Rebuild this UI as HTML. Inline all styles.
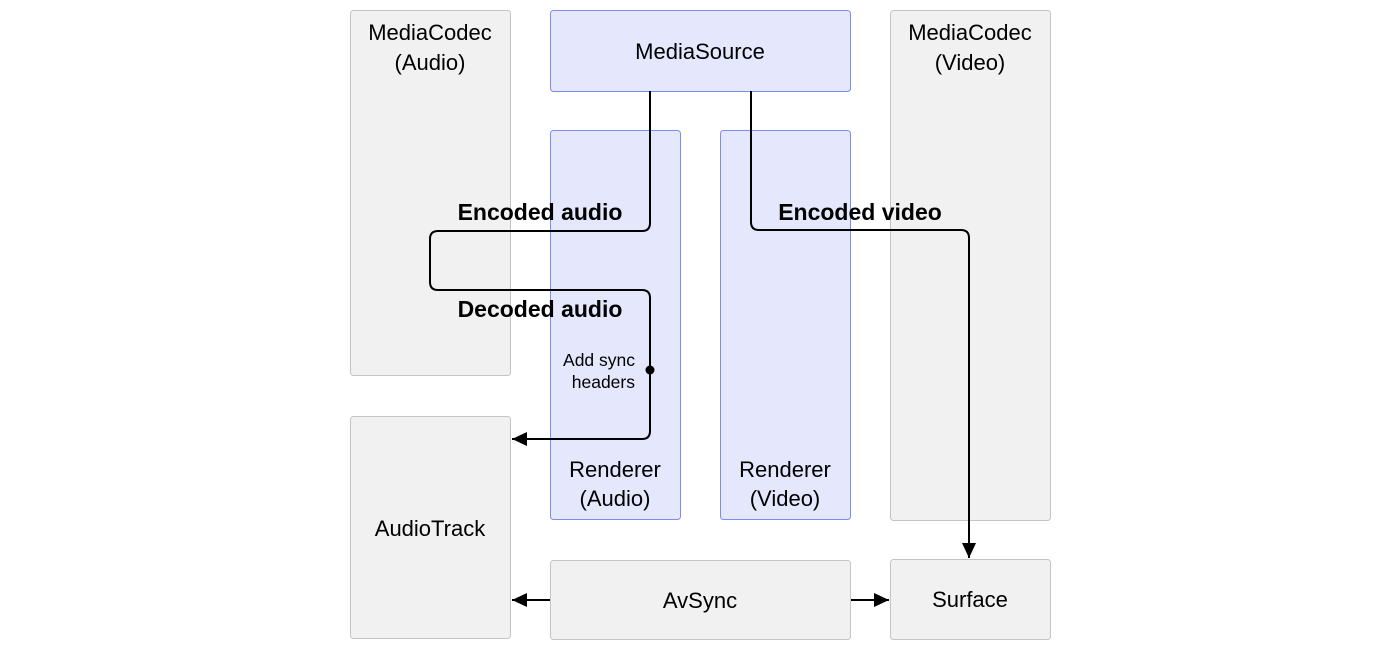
<!DOCTYPE html>
<html><head><style>body{margin:0;background:#fff}svg{display:block}</style></head><body>
<svg width="1400" height="650" xmlns="http://www.w3.org/2000/svg" font-family="Liberation Sans, Arial, sans-serif">
<defs><marker id="a" markerWidth="15" markerHeight="14" refX="15" refY="7" orient="auto" markerUnits="userSpaceOnUse"><path d="M0,0L15,7L0,14z" fill="#000"/></marker></defs>
<g stroke="#c4c4c4" fill="#f1f1f1">
<rect x="350.5" y="10.5" width="160" height="365" rx="3"/>
<rect x="890.5" y="10.5" width="160" height="510" rx="3"/>
<rect x="350.5" y="416.5" width="160" height="222" rx="3"/>
<rect x="550.5" y="560.5" width="300" height="79" rx="3"/>
<rect x="890.5" y="559.5" width="160" height="80" rx="3"/>
</g>
<g stroke="#7a8cf5" fill="#e5e7fd">
<rect x="550.5" y="10.5" width="300" height="81" rx="3"/>
<rect x="550.5" y="130.5" width="130" height="389" rx="3"/>
<rect x="720.5" y="130.5" width="130" height="389" rx="3"/>
</g>
<g font-size="22" fill="#000" text-anchor="middle">
<text x="430" y="40">MediaCodec</text><text x="430" y="70">(Audio)</text>
<text x="970" y="40">MediaCodec</text><text x="970" y="70">(Video)</text>
<text x="700" y="59">MediaSource</text>
<text x="615" y="477">Renderer</text><text x="615" y="506">(Audio)</text>
<text x="785" y="477">Renderer</text><text x="785" y="506">(Video)</text>
<text x="430" y="536">AudioTrack</text>
<text x="700" y="608">AvSync</text>
<text x="970" y="607">Surface</text>
</g>
<g font-size="23" font-weight="bold" text-anchor="middle">
<text x="540" y="220">Encoded audio</text>
<text x="540" y="317">Decoded audio</text>
<text x="860" y="220">Encoded video</text>
</g>
<g font-size="17.5" text-anchor="end"><text x="635" y="366">Add sync</text><text x="635" y="388">headers</text></g>
<g fill="none" stroke="#000" stroke-width="2">
<path d="M650,91V223q0,8-8,8H438q-8,0-8,8V282q0,8,8,8H642q8,0,8,8V431q0,8-8,8H512" marker-end="url(#a)"/>
<path d="M751,91V222q0,8,8,8H961q8,0,8,8V558" marker-end="url(#a)"/>
<path d="M550,600H512" marker-end="url(#a)"/>
<path d="M851,600H889" marker-end="url(#a)"/>
</g>
<circle cx="650" cy="370" r="4.5" fill="#000"/>
</svg>
</body></html>
